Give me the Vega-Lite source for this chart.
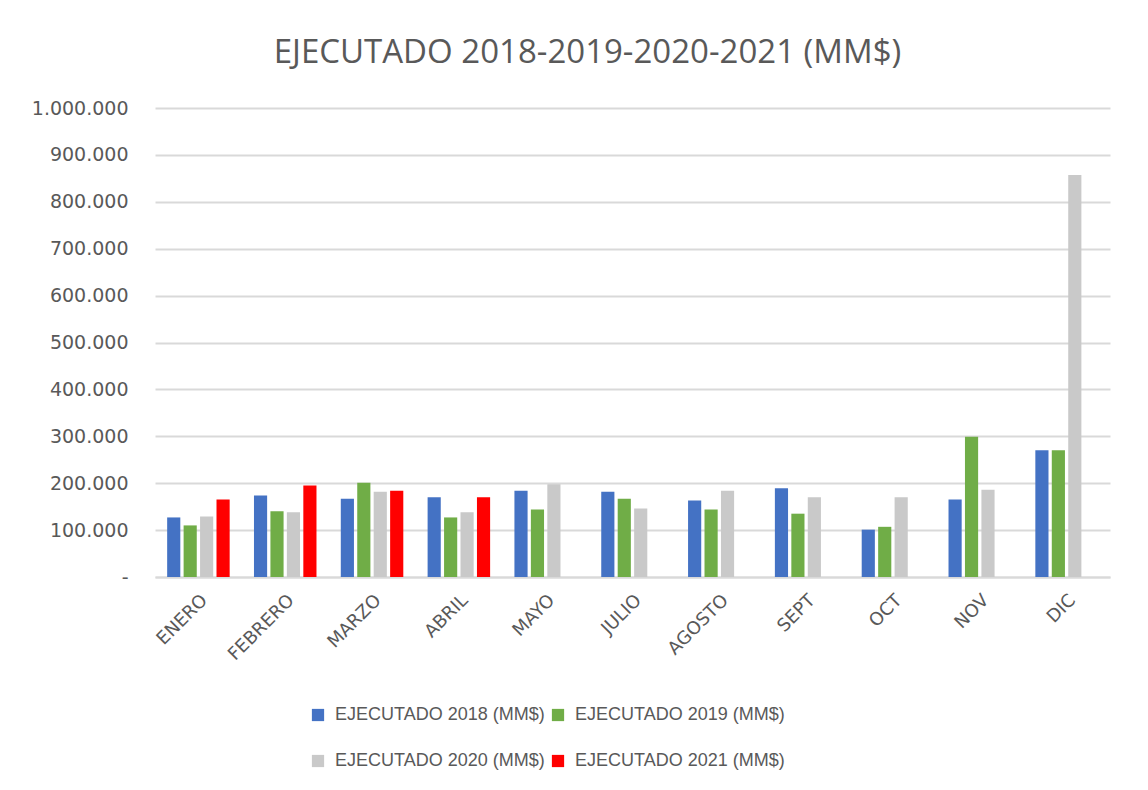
{
  "$schema": "https://vega.github.io/schema/vega-lite/v6.json",
  "width": 955,
  "height": 469,
  "autosize": {"type": "none"},
  "padding": {"left": 155, "top": 108, "right": 38, "bottom": 213},
  "background": "white",
  "config": {
    "font": "Liberation Sans",
    "view": {"stroke": null},
    "locale": {"number": {"decimal": ",", "thousands": ".", "grouping": [3], "currency": ["$", ""]}}
  },
  "title": {
    "text": "EJECUTADO 2018-2019-2020-2021 (MM$)",
    "fontSize": 33,
    "fontWeight": "normal",
    "font": "Open Sans",
    "color": "#595959",
    "anchor": "middle",
    "frame": "group",
    "dx": -45,
    "offset": 29
  },
  "data": {
    "values": [
      {"mes": "ENERO", "serie": "EJECUTADO 2018 (MM$)", "valor": 127000},
      {"mes": "ENERO", "serie": "EJECUTADO 2019 (MM$)", "valor": 110000},
      {"mes": "ENERO", "serie": "EJECUTADO 2020 (MM$)", "valor": 129000},
      {"mes": "ENERO", "serie": "EJECUTADO 2021 (MM$)", "valor": 165000},
      {"mes": "FEBRERO", "serie": "EJECUTADO 2018 (MM$)", "valor": 174000},
      {"mes": "FEBRERO", "serie": "EJECUTADO 2019 (MM$)", "valor": 140000},
      {"mes": "FEBRERO", "serie": "EJECUTADO 2020 (MM$)", "valor": 138000},
      {"mes": "FEBRERO", "serie": "EJECUTADO 2021 (MM$)", "valor": 195000},
      {"mes": "MARZO", "serie": "EJECUTADO 2018 (MM$)", "valor": 167000},
      {"mes": "MARZO", "serie": "EJECUTADO 2019 (MM$)", "valor": 201000},
      {"mes": "MARZO", "serie": "EJECUTADO 2020 (MM$)", "valor": 182000},
      {"mes": "MARZO", "serie": "EJECUTADO 2021 (MM$)", "valor": 184000},
      {"mes": "ABRIL", "serie": "EJECUTADO 2018 (MM$)", "valor": 170000},
      {"mes": "ABRIL", "serie": "EJECUTADO 2019 (MM$)", "valor": 127000},
      {"mes": "ABRIL", "serie": "EJECUTADO 2020 (MM$)", "valor": 138000},
      {"mes": "ABRIL", "serie": "EJECUTADO 2021 (MM$)", "valor": 170000},
      {"mes": "MAYO", "serie": "EJECUTADO 2018 (MM$)", "valor": 184000},
      {"mes": "MAYO", "serie": "EJECUTADO 2019 (MM$)", "valor": 144000},
      {"mes": "MAYO", "serie": "EJECUTADO 2020 (MM$)", "valor": 198000},
      {"mes": "JULIO", "serie": "EJECUTADO 2018 (MM$)", "valor": 182000},
      {"mes": "JULIO", "serie": "EJECUTADO 2019 (MM$)", "valor": 167000},
      {"mes": "JULIO", "serie": "EJECUTADO 2020 (MM$)", "valor": 146000},
      {"mes": "AGOSTO", "serie": "EJECUTADO 2018 (MM$)", "valor": 163000},
      {"mes": "AGOSTO", "serie": "EJECUTADO 2019 (MM$)", "valor": 144000},
      {"mes": "AGOSTO", "serie": "EJECUTADO 2020 (MM$)", "valor": 184000},
      {"mes": "SEPT", "serie": "EJECUTADO 2018 (MM$)", "valor": 189000},
      {"mes": "SEPT", "serie": "EJECUTADO 2019 (MM$)", "valor": 135000},
      {"mes": "SEPT", "serie": "EJECUTADO 2020 (MM$)", "valor": 170000},
      {"mes": "OCT", "serie": "EJECUTADO 2018 (MM$)", "valor": 101000},
      {"mes": "OCT", "serie": "EJECUTADO 2019 (MM$)", "valor": 107000},
      {"mes": "OCT", "serie": "EJECUTADO 2020 (MM$)", "valor": 170000},
      {"mes": "NOV", "serie": "EJECUTADO 2018 (MM$)", "valor": 165000},
      {"mes": "NOV", "serie": "EJECUTADO 2019 (MM$)", "valor": 299000},
      {"mes": "NOV", "serie": "EJECUTADO 2020 (MM$)", "valor": 186000},
      {"mes": "DIC", "serie": "EJECUTADO 2018 (MM$)", "valor": 270000},
      {"mes": "DIC", "serie": "EJECUTADO 2019 (MM$)", "valor": 270000},
      {"mes": "DIC", "serie": "EJECUTADO 2020 (MM$)", "valor": 857000}
    ]
  },
  "mark": {"type": "bar"},
  "encoding": {
    "x": {
      "field": "mes",
      "type": "nominal",
      "sort": ["ENERO", "FEBRERO", "MARZO", "ABRIL", "MAYO", "JULIO", "AGOSTO", "SEPT", "OCT", "NOV", "DIC"],
      "scale": {"paddingInner": 0.28, "paddingOuter": 0.14},
      "axis": {
        "title": null,
        "labelAngle": -45,
        "labelFont": "DejaVu Sans",
        "labelFontSize": 18,
        "labelColor": "#595959",
        "labelPadding": 14,
        "ticks": false,
        "domainColor": "#d9d9d9",
        "domainWidth": 2
      }
    },
    "xOffset": {
      "field": "serie",
      "type": "nominal",
      "scale": {
        "domain": ["EJECUTADO 2018 (MM$)", "EJECUTADO 2019 (MM$)", "EJECUTADO 2020 (MM$)", "EJECUTADO 2021 (MM$)"],
        "paddingInner": 0.2
      }
    },
    "y": {
      "field": "valor",
      "type": "quantitative",
      "scale": {"domain": [0, 1000000], "nice": false},
      "axis": {
        "title": null,
        "values": [0, 100000, 200000, 300000, 400000, 500000, 600000, 700000, 800000, 900000, 1000000],
        "format": ",d",
        "labelExpr": "datum.value === 0 ? '-' : datum.label",
        "labelFont": "DejaVu Sans",
        "labelFontSize": 19,
        "labelColor": "#595959",
        "labelPadding": 27,
        "ticks": false,
        "domain": false,
        "gridColor": "#d9d9d9",
        "gridWidth": 2
      }
    },
    "color": {
      "field": "serie",
      "type": "nominal",
      "scale": {
        "domain": ["EJECUTADO 2018 (MM$)", "EJECUTADO 2019 (MM$)", "EJECUTADO 2020 (MM$)", "EJECUTADO 2021 (MM$)"],
        "range": ["#4472C4", "#70AD47", "#C9C9C9", "#FF0000"]
      },
      "legend": {
        "title": null,
        "orient": "none",
        "legendX": 154,
        "legendY": 598,
        "direction": "horizontal",
        "columns": 2,
        "columnPadding": 4,
        "rowPadding": 28,
        "symbolType": "square",
        "symbolSize": 150,
        "symbolStrokeWidth": 0,
        "labelFontSize": 18,
        "labelColor": "#595959",
        "labelOffset": 8,
        "labelLimit": 300
      }
    }
  }
}
